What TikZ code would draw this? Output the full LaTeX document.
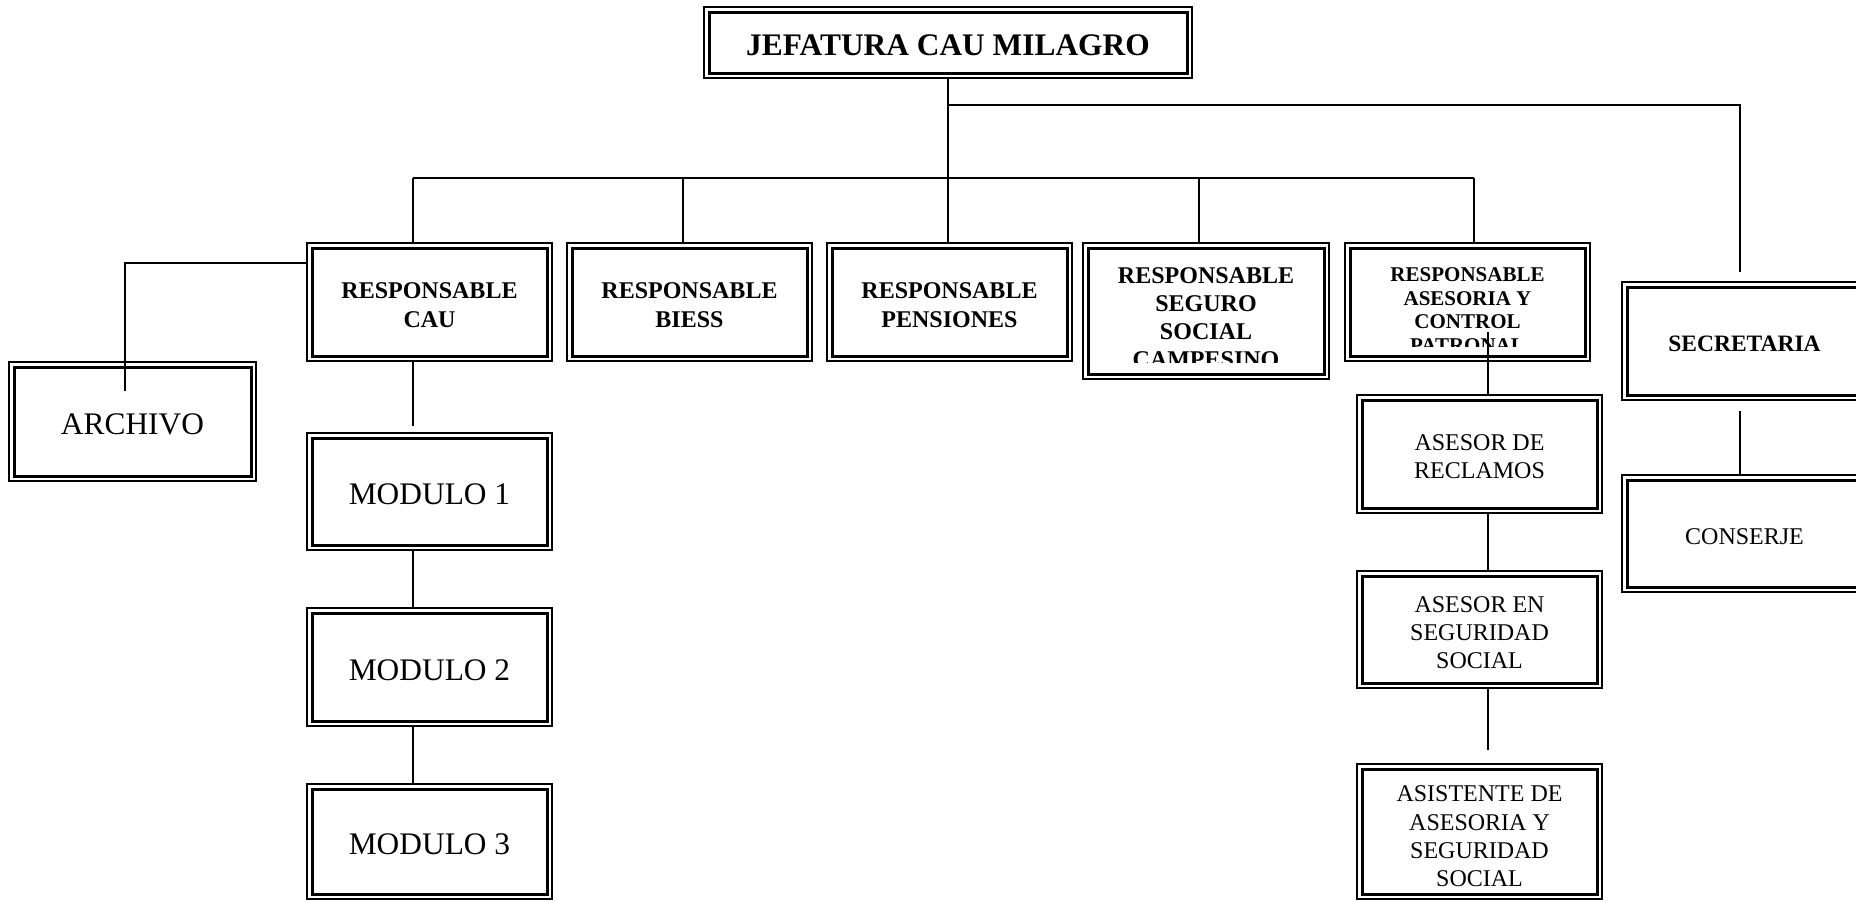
\documentclass[tikz,border=0pt]{standalone}
\usepackage{fontspec}
\setmainfont{Liberation Serif}
\begin{document}
\begin{tikzpicture}[x=1pt,y=-1pt,
  dbox/.style={draw, line width=2pt, outer sep=0pt, inner sep=0pt,
    minimum width=245pt, minimum height=118pt},
  lab/.style={align=center, inner sep=0pt, yshift=-3pt},
  inbox/.style={line width=3pt},
  conn/.style={line width=1.8pt},
  bigb/.style={font=\fontsize{31.4}{37}\selectfont\bfseries},
  midb/.style={font=\fontsize{24}{29.6}\selectfont\bfseries},
  bigr/.style={font=\fontsize{31.4}{37}\selectfont},
  midr/.style={font=\fontsize{24}{28.3}\selectfont}]
\useasboundingbox (0,0) rectangle (1856,900);

% boxes
\node[dbox, minimum width=488pt, minimum height=71pt,
  label={[lab,bigb]center:{JEFATURA CAU MILAGRO}}] (jef) at (948,42.5) {};
\node[dbox, label={[lab,midb]center:{RESPONSABLE\\CAU}}] (cau) at (429.5,302) {};
\node[dbox, label={[lab,midb]center:{RESPONSABLE\\BIESS}}] (biess) at (689.5,302) {};
\node[dbox, label={[lab,midb]center:{RESPONSABLE\\PENSIONES}}] (pens) at (949.5,302) {};
\node[dbox, minimum width=246pt, minimum height=136pt] (seguro) at (1206,311) {};
\node[dbox] (ases) at (1467.5,302) {};
\node[dbox, label={[lab,font=\fontsize{23.5}{28}\selectfont\bfseries]center:{SECRETARIA}}] (secr) at (1744.5,341) {};
\node[dbox, minimum height=117pt, label={[lab,midr]center:{CONSERJE}}] (cons) at (1744.5,533.5) {};
\node[dbox, minimum width=247pt, minimum height=119pt, label={[lab,bigr]center:{ARCHIVO}}] (arch) at (132.5,421.5) {};
\node[dbox, minimum height=117pt, label={[lab,bigr]center:{MODULO 1}}] (m1) at (429.5,491.5) {};
\node[dbox, label={[lab,bigr]center:{MODULO 2}}] (m2) at (429.5,667) {};
\node[dbox, minimum height=115pt, label={[lab,bigr]center:{MODULO 3}}] (m3) at (429.5,841.5) {};
\node[dbox, label={[lab,midr]center:{ASESOR DE\\RECLAMOS}}] (recl) at (1479.5,454) {};
\node[dbox, minimum height=117pt, label={[lab,midr]center:{ASESOR EN\\SEGURIDAD\\SOCIAL}}] (aseg) at (1479.5,629.5) {};
\node[dbox, minimum height=135pt, label={[lab,midr,yshift=-2pt]center:{ASISTENTE DE\\ASESORIA Y\\SEGURIDAD\\SOCIAL}}] (asis) at (1479.5,831.5) {};

% inner borders
\foreach \n in {jef,cau,biess,pens,seguro,ases,secr,cons,arch,m1,m2,m3,recl,aseg,asis}
  \draw[inbox] ([xshift=5pt,yshift=-5pt]\n.north west) rectangle ([xshift=-5pt,yshift=5pt]\n.south east);

% clipped texts
\begin{scope}
  \clip (1092,252) rectangle (1320,362);
  \node[align=center, inner sep=0pt, font=\fontsize{24}{27.8}\selectfont\bfseries] (seguroT) at (1206,317.5)
    {RESPONSABLE\\SEGURO\\SOCIAL\\CAMPESINO};
\end{scope}
\begin{scope}
  \clip (1354,252) rectangle (1581,346);
  \node[align=center, inner sep=0pt, font=\fontsize{21}{23.7}\selectfont\bfseries] (asesT) at (1467.5,310)
    {RESPONSABLE\\ASESORIA Y\\CONTROL\\PATRONAL};
\end{scope}

% connector points
\coordinate (hl) at (413,178);
\coordinate (hr) at (1474,178);
\coordinate (dB) at (683,178);
\coordinate (dS) at (1199,178);
\coordinate (sb) at (948,105);
\coordinate (sc) at (1740,105);
\coordinate (se) at (1740,272);
\coordinate (sc2) at (1740,411);
\coordinate (ac) at (125,263);
\coordinate (ae) at (125,391);
\coordinate (ai) at (1488,332);

% connectors
\draw[conn] (jef.south) -- (jef.south |- pens.north);
\draw[conn] (hl) -- (hr);
\draw[conn] (hl) -- (hl |- cau.north);
\draw[conn] (dB) -- (dB |- biess.north);
\draw[conn] (dS) -- (dS |- seguro.north);
\draw[conn] (hr) -- (hr |- ases.north);
\draw[conn] (sb) -- (sc) -- (se);
\draw[conn] (sc2) -- (sc2 |- cons.north);
\draw[conn] (cau.west |- ac) -- (ac) -- (ae);
\draw[conn] (cau.south -| hl) -- ([yshift=7pt]m1.north -| hl);
\draw[conn] (m1.south -| hl) -- (m2.north -| hl);
\draw[conn] (m2.south -| hl) -- (m3.north -| hl);
\draw[conn] (ai) -- (ai |- recl.north);
\draw[conn] (recl.south -| ai) -- (aseg.north -| ai);
\draw[conn] (aseg.south -| ai) -- ([yshift=14pt]asis.north -| ai);
\end{tikzpicture}
\end{document}
